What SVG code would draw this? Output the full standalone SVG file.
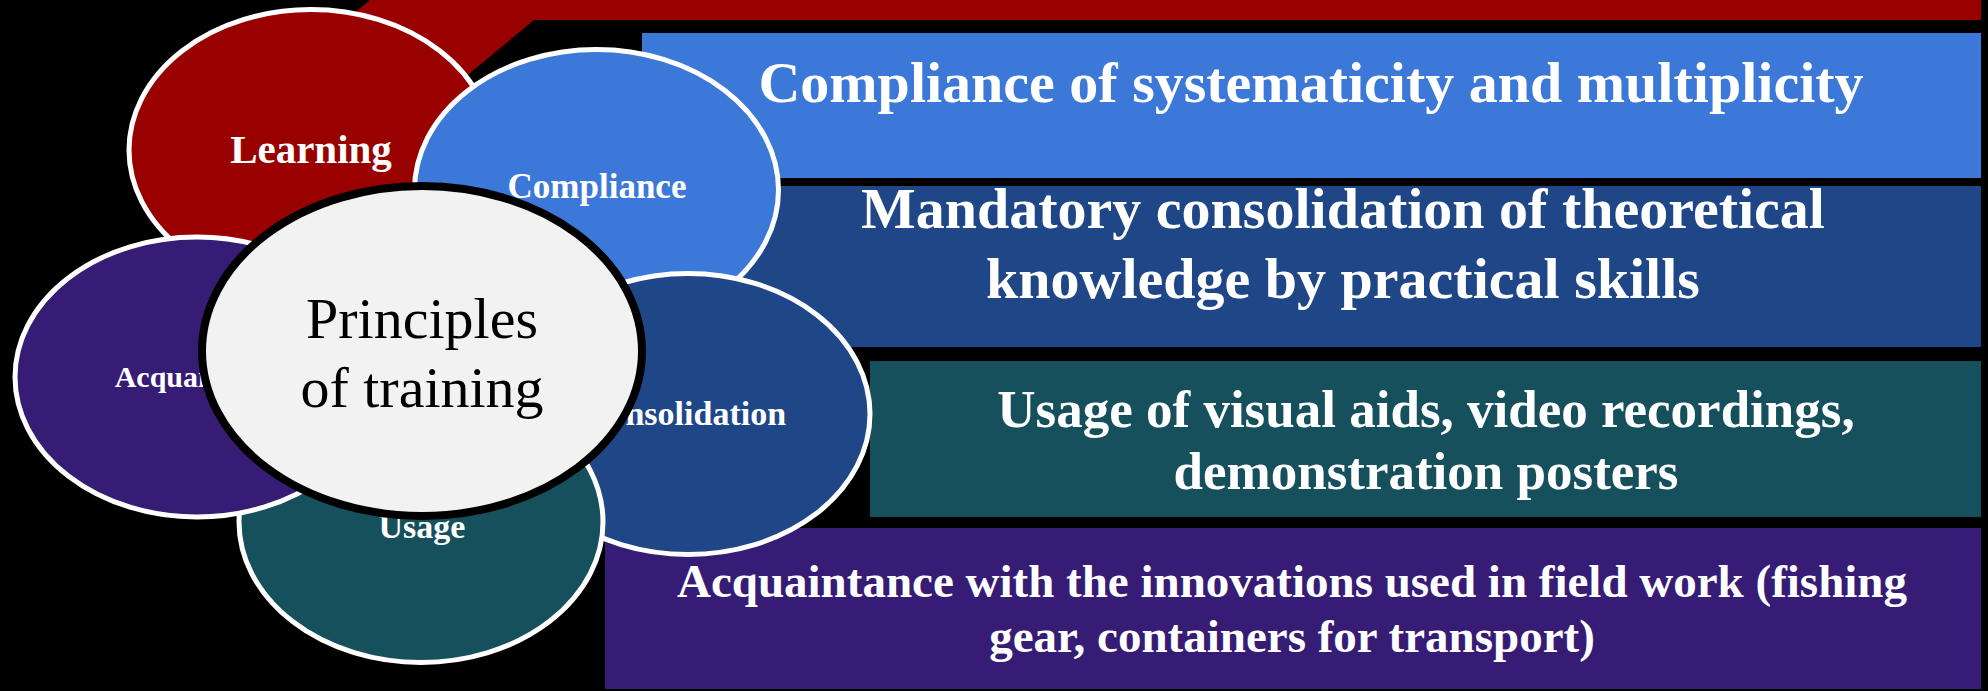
<svg xmlns="http://www.w3.org/2000/svg" width="1988" height="691" viewBox="0 0 1988 691">
  <style>
    .lbl { font-family: "Liberation Serif", "Times New Roman", serif; font-weight: bold; fill: #ffffff; text-anchor: middle; }
    .ring { stroke: #ffffff; stroke-width: 5; }
    .hub { font-family: "Liberation Serif", "Times New Roman", serif; font-size: 58px; fill: #000000; text-anchor: middle; }
  </style>

  <!-- background -->
  <rect x="0" y="0" width="1988" height="691" fill="#000000"/>

  <!-- dark red band running along the top and down behind the first circle -->
  <g id="band">
    <polygon points="370,0 1981,0 1981,20 534,20 376,151 188,151" fill="#990000"/>
  </g>

  <!-- description panels -->
  <g id="panel-compliance">
    <rect x="642" y="33" width="1339" height="145" fill="#3c78d8"/>
    <text class="lbl" x="1311" y="102" font-size="58">Compliance of systematicity and multiplicity</text>
  </g>
  <g id="panel-consolidation">
    <rect x="706" y="186" width="1275" height="161" fill="#1f4788"/>
    <text class="lbl" x="1343" y="228" font-size="58">Mandatory consolidation of theoretical</text>
    <text class="lbl" x="1343" y="298" font-size="58">knowledge by practical skills</text>
  </g>
  <g id="panel-usage">
    <rect x="870" y="361" width="1111" height="156" fill="#16505d"/>
    <text class="lbl" x="1426" y="427" font-size="53">Usage of visual aids, video recordings,</text>
    <text class="lbl" x="1426" y="489" font-size="53">demonstration posters</text>
  </g>
  <g id="panel-acquaintance">
    <rect x="605" y="528" width="1376" height="161" fill="#361c75"/>
    <text class="lbl" x="1292" y="597" font-size="47">Acquaintance with the innovations used in field work (fishing</text>
    <text class="lbl" x="1292" y="652" font-size="47">gear, containers for transport)</text>
  </g>

  <!-- ring of principle circles -->
  <g id="node-learning">
    <ellipse class="ring" cx="311" cy="150" rx="182" ry="140.5" fill="#990000"/>
    <text class="lbl" x="311" y="163" font-size="41">Learning</text>
  </g>
  <g id="node-compliance">
    <ellipse class="ring" cx="596.5" cy="190" rx="182" ry="140.5" fill="#3c78d8"/>
    <text class="lbl" x="597" y="198" font-size="35">Compliance</text>
  </g>
  <g id="node-consolidation">
    <ellipse class="ring" cx="688" cy="414" rx="182" ry="140.5" fill="#1f4788"/>
    <text class="lbl" x="685" y="425" font-size="34">Consolidation</text>
  </g>
  <g id="node-usage">
    <ellipse class="ring" cx="421" cy="522" rx="182" ry="140.5" fill="#16505d"/>
    <text class="lbl" x="422" y="538" font-size="34">Usage</text>
  </g>
  <g id="node-acquaintance">
    <ellipse class="ring" cx="197" cy="377" rx="182" ry="140" fill="#361c75"/>
    <text class="lbl" x="203" y="387" font-size="30">Acquaintance</text>
  </g>

  <!-- central hub -->
  <g id="node-principles">
    <ellipse cx="422" cy="351" rx="220" ry="165" fill="#f2f2f2" stroke="#000000" stroke-width="8"/>
    <text class="hub" x="422" y="338">Principles</text>
    <text class="hub" x="422" y="407">of training</text>
  </g>

  <!-- no connectors between nodes -->
  <g id="connectors"/>
</svg>
